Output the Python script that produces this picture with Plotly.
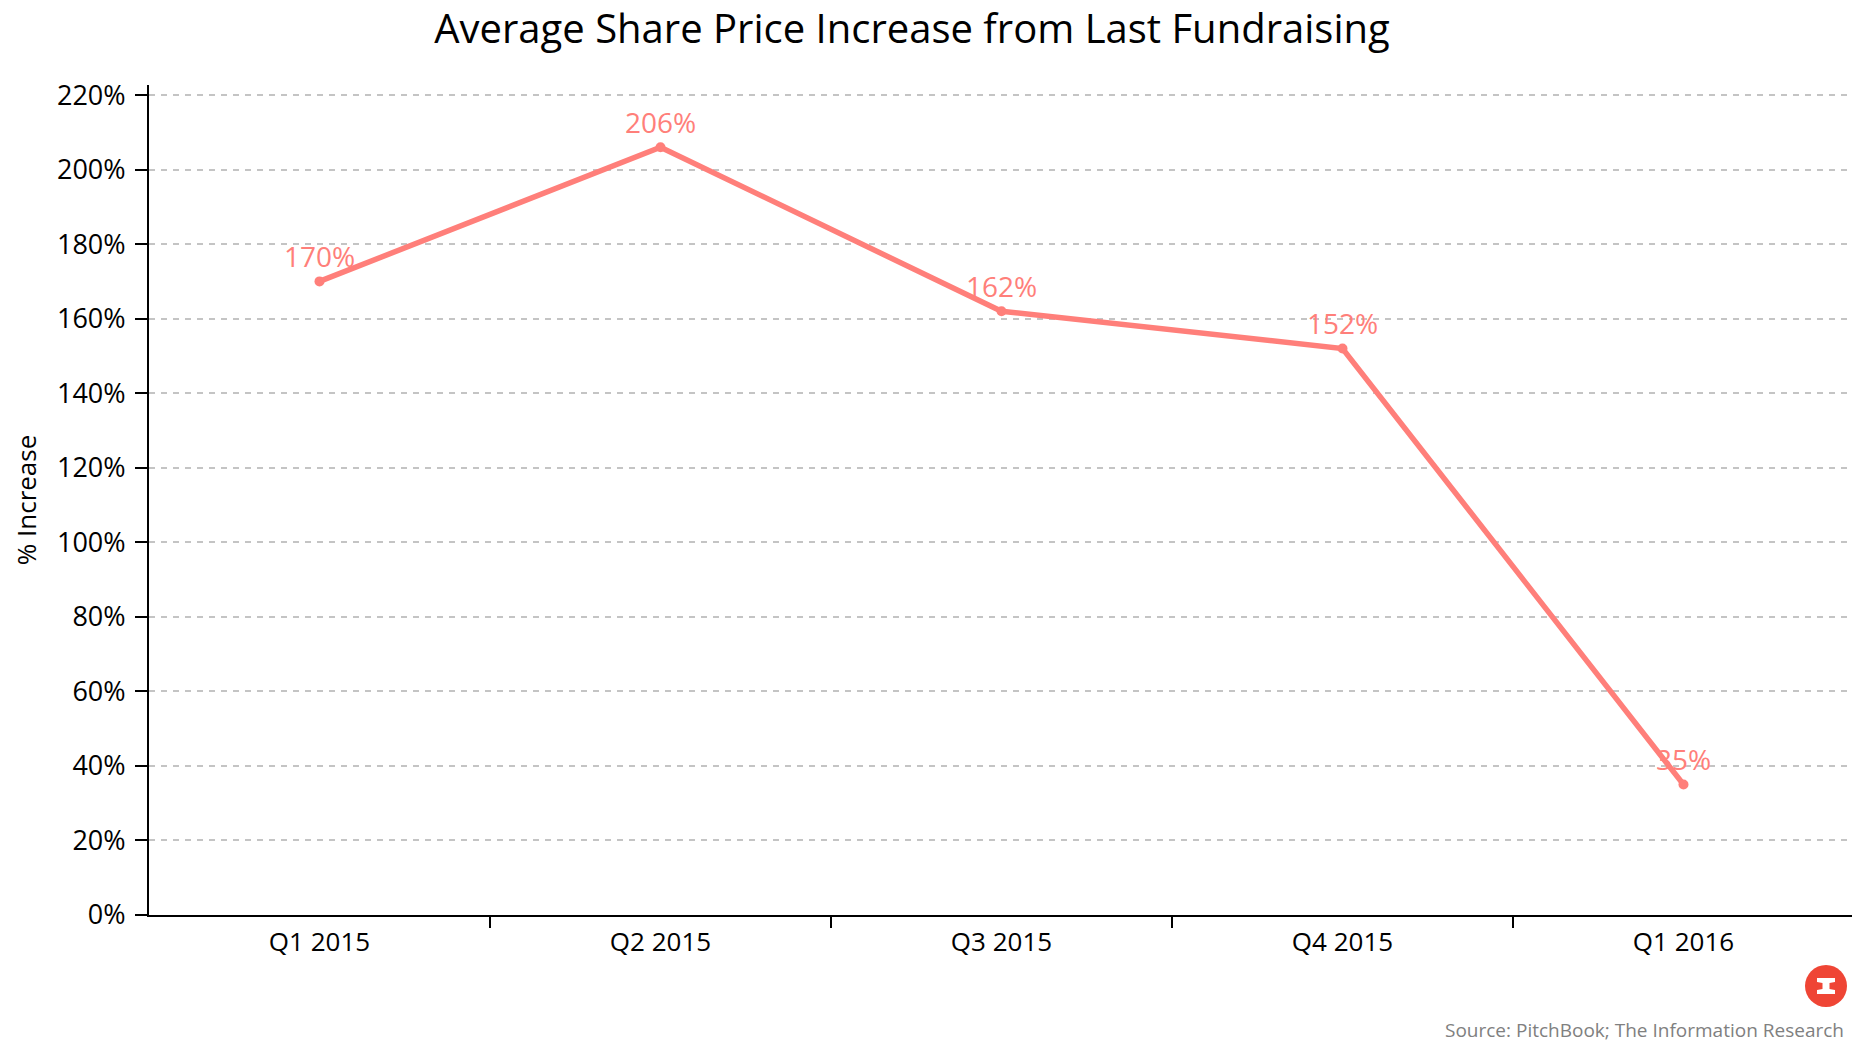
import plotly.graph_objects as go

# Data
quarters = ["Q1 2015", "Q2 2015", "Q3 2015", "Q4 2015", "Q1 2016"]
increase_pct = [170, 206, 162, 152, 35]
y_ticks = [0, 20, 40, 60, 80, 100, 120, 140, 160, 180, 200, 220]
y_tick_labels = [f"{v}%" for v in y_ticks]
boundary_ticks = [0.5, 1.5, 2.5, 3.5]

title_text = "Average Share Price Increase from Last Fundraising"
y_title = "% Increase"
source_text = "Source: PitchBook; The Information Research"

W, H = 1860, 1046
ML, MR, MT, MB = 141, 14, 77, 139
PW, PH = W - ML - MR, H - MT - MB

LINE_COLOR = "#ff7f7a"
FONT = "Open Sans"

fig = go.Figure()
fig.add_trace(go.Scatter(
    x=quarters,
    y=increase_pct,
    mode="lines+markers+text",
    line=dict(color=LINE_COLOR, width=5.5),
    marker=dict(color=LINE_COLOR, size=10),
    text=[f"{v}%" for v in increase_pct],
    textposition="top center",
    textfont=dict(family=FONT, size=28, color=LINE_COLOR),
    hoverinfo="skip",
    showlegend=False,
    cliponaxis=False,
))
# invisible companion trace so the boundary-tick axis is drawn
fig.add_trace(go.Scatter(
    x=list(range(len(quarters))),
    y=increase_pct,
    xaxis="x2", yaxis="y",
    mode="markers", marker=dict(opacity=0),
    hoverinfo="skip", showlegend=False,
))

fig.update_layout(
    width=W, height=H,
    margin=dict(l=ML, r=MR, t=MT, b=MB, autoexpand=False),
    paper_bgcolor="white",
    plot_bgcolor="white",
    font=dict(family=FONT, size=24, color="black"),
    title=dict(
        text=title_text,
        x=904 / W, xanchor="center", xref="container",
        y=1 - 21 / H, yanchor="middle", yref="container",
        font=dict(family=FONT, size=40, color="black"),
    ),
    xaxis=dict(
        type="category",
        range=[-0.5, len(quarters) - 0.5],
        showline=True, linecolor="black", linewidth=2,
        ticks="", showgrid=False, zeroline=False,
        tickfont=dict(family=FONT, size=26, color="black"),
        ticklabelstandoff=3,
    ),
    xaxis2=dict(
        overlaying="x", anchor="y", side="bottom",
        type="linear",
        range=[-0.5, len(quarters) - 0.5],
        tickmode="array", tickvals=boundary_ticks,
        ticks="outside", ticklen=12, tickwidth=2, tickcolor="black",
        showticklabels=False, showline=False, showgrid=False, zeroline=False,
    ),
    yaxis=dict(
        range=[0, 222.7],
        tickmode="array", tickvals=y_ticks, ticktext=y_tick_labels,
        showline=True, linecolor="black", linewidth=2,
        ticks="outside", ticklen=12, tickwidth=2, tickcolor="black",
        showgrid=True, gridcolor="#c4c4c4", gridwidth=1.6, griddash="6px,6px",
        zeroline=False,
        tickfont=dict(family=FONT, size=27, color="black"),
        ticklabelstandoff=4,
        title=dict(text=y_title, font=dict(family=FONT, size=26, color="black"), standoff=14),
    ),
)

# Source note
fig.add_annotation(
    text=source_text, xref="paper", yref="paper",
    x=(1838 - ML) / PW, y=-(1022 - (MT + PH)) / PH,
    xanchor="right", yanchor="middle", showarrow=False,
    font=dict(family=FONT, size=19, color="#808080"),
)

# Logo (decoration)
lx = (1818 - ML) / PW
ly = -(978 - (MT + PH)) / PH
fig.add_shape(type="circle", xref="paper", yref="paper",
              xsizemode="pixel", ysizemode="pixel", xanchor=lx, yanchor=ly,
              x0=-21, x1=21, y0=-21, y1=21,
              fillcolor="#ef4535", line=dict(width=0))
fig.add_shape(type="path", xref="paper", yref="paper",
              xsizemode="pixel", ysizemode="pixel", xanchor=lx, yanchor=ly,
              path="M -9,8 L 9,8 L 9,4 L 3.5,3 L 3.5,-3 L 9,-4 L 9,-8 L -9,-8 L -9,-4 L -3.5,-3 L -3.5,3 L -9,4 Z",
              fillcolor="white", line=dict(width=0))

fig.write_html("out.html")
